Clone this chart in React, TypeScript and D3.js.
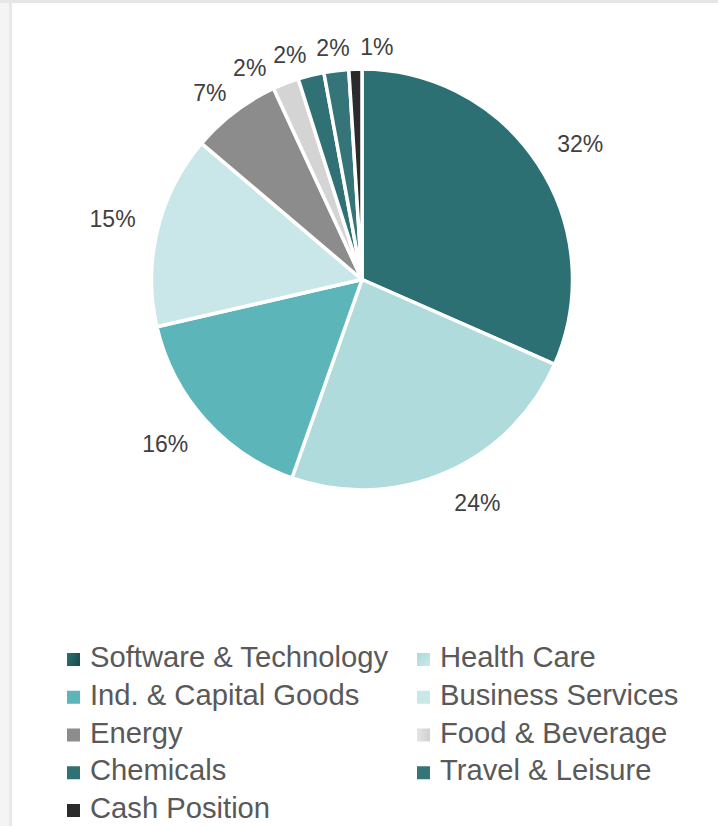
import React from 'react';
import * as d3 from 'd3';

const categories = [
  'Software & Technology',
  'Health Care',
  'Ind. & Capital Goods',
  'Business Services',
  'Energy',
  'Food & Beverage',
  'Chemicals',
  'Travel & Leisure',
  'Cash Position',
];
const values = [31.6, 23.8, 16.0, 14.8, 6.9, 2.0, 2.0, 1.9, 1.0];
const fills = [
  'url(#gSoft)',
  'url(#gHealth)',
  '#5cb5b8',
  '#c9e7e8',
  '#8c8c8c',
  '#d4d4d4',
  '#2f7175',
  '#357478',
  '#2b2b2b',
];
const legendFills = [
  'url(#gSoftL)',
  'url(#gHealthL)',
  '#5cb5b8',
  '#c9e7e8',
  '#8c8c8c',
  'url(#gFoodL)',
  '#2f7175',
  '#357478',
  '#2b2b2b',
];

const W = 718;
const H = 826;
const CX = 362;
const CY = 279.5;
const R = 210.5;
const LABEL_R_BIG = 233;
const LABEL_R_SMALL = 224;
const LABEL_FS = 23;
const LEGEND_FS = 29.2;
const MIN_SEP = 9.5; // degrees between neighbouring labels

export default function App() {
  const total = d3.sum(values);
  const pie = d3
    .pie<number>()
    .sort(null)
    .value((d) => d)
    .startAngle(0)
    .endAngle(2 * Math.PI);
  const arcs = pie(values);
  const arc = d3.arc<d3.PieArcDatum<number>>().innerRadius(0).outerRadius(R);

  // label angles (deg), relaxed to avoid overlaps
  const ang = arcs.map((a) => (((a.startAngle + a.endAngle) / 2) * 180) / Math.PI);
  for (let it = 0; it < 200; it++) {
    for (let i = 0; i < ang.length - 1; i++) {
      const d = ang[i + 1] - ang[i];
      if (d < MIN_SEP) {
        const push = (MIN_SEP - d) / 2;
        ang[i] -= push;
        ang[i + 1] += push;
      }
    }
  }

  const clamp = (v: number) => Math.max(-1, Math.min(1, v));
  const labels = arcs.map((a, i) => {
    const share = a.data / total;
    const txt = `${Math.round(share * 100)}%`;
    const digits = txt.length - 1;
    const w = LABEL_FS * (0.556 * digits + 0.889);
    const h = LABEL_FS * 0.78;
    const t = (ang[i] * Math.PI) / 180;
    const s = Math.sin(t);
    const c = Math.cos(t);
    const lr = share < 0.1 ? LABEL_R_SMALL : LABEL_R_BIG;
    const x = CX + lr * s + (clamp(2.5 * s) * w) / 2;
    const y = CY - lr * c - (clamp(2.5 * c) * h) / 2;
    return { txt, x, y: y + LABEL_FS * 0.36 };
  });

  const legendX = [67, 417];
  const legendY0 = 667;
  const legendDY = 37.75;

  return (
    <svg
      width={W}
      height={H}
      style={{ position: 'absolute', left: 0, top: 0, display: 'block' }}
      fontFamily="'Liberation Sans', Arial, sans-serif"
    >
      <defs>
        <linearGradient id="gSoft" gradientUnits="userSpaceOnUse" x1={CX} y1={CY} x2={CX + R} y2={CY - 30}>
          <stop offset="0" stopColor="#2c7073" />
          <stop offset="1" stopColor="#1b5052" />
        </linearGradient>
        <linearGradient id="gHealth" gradientUnits="userSpaceOnUse" x1={CX} y1={CY} x2={CX + 60} y2={CY + 80}>
          <stop offset="0" stopColor="#b0dbdc" />
          <stop offset="1" stopColor="#c9e8e9" />
        </linearGradient>
        <linearGradient id="gSoftL" x1="0" y1="0" x2="1" y2="0.3">
          <stop offset="0" stopColor="#2c7073" />
          <stop offset="1" stopColor="#1b5052" />
        </linearGradient>
        <linearGradient id="gHealthL" x1="0" y1="0" x2="1" y2="1">
          <stop offset="0" stopColor="#acd9db" />
          <stop offset="1" stopColor="#cbe9ea" />
        </linearGradient>
        <linearGradient id="gFoodL" x1="0" y1="0" x2="1" y2="0">
          <stop offset="0" stopColor="#e4e4e4" />
          <stop offset="1" stopColor="#d0d0d0" />
        </linearGradient>
      </defs>

      <rect x={0} y={0} width={W} height={H} fill="#f4f4f4" />
      <rect x={0} y={0} width={W} height={3} fill="#e6e6e6" />
      <rect x={9} y={3} width={3} height={H} fill="#e8e8e8" />
      <rect x={12} y={3} width={W - 12} height={H - 3} fill="#ffffff" />

      <g transform={`translate(${CX},${CY})`}>
        {arcs.map((a, i) => (
          <path
            key={categories[i]}
            d={arc(a) || ''}
            fill={fills[i]}
            stroke="#ffffff"
            strokeWidth={3.5}
            strokeLinejoin="round"
          />
        ))}
      </g>

      {labels.map((l, i) => (
        <text
          key={'l' + i}
          x={l.x}
          y={l.y}
          textAnchor="middle"
          fontSize={LABEL_FS}
          fill="#404040"
        >
          {l.txt}
        </text>
      ))}

      {categories.map((c, i) => {
        const col = i % 2;
        const row = Math.floor(i / 2);
        const by = legendY0 + row * legendDY;
        return (
          <g key={'lg' + i}>
            <rect x={legendX[col]} y={by - 14} width={13} height={13} fill={legendFills[i]} />
            <text x={legendX[col] + 23} y={by} fontSize={LEGEND_FS} fill="#595959">
              {c}
            </text>
          </g>
        );
      })}
    </svg>
  );
}
